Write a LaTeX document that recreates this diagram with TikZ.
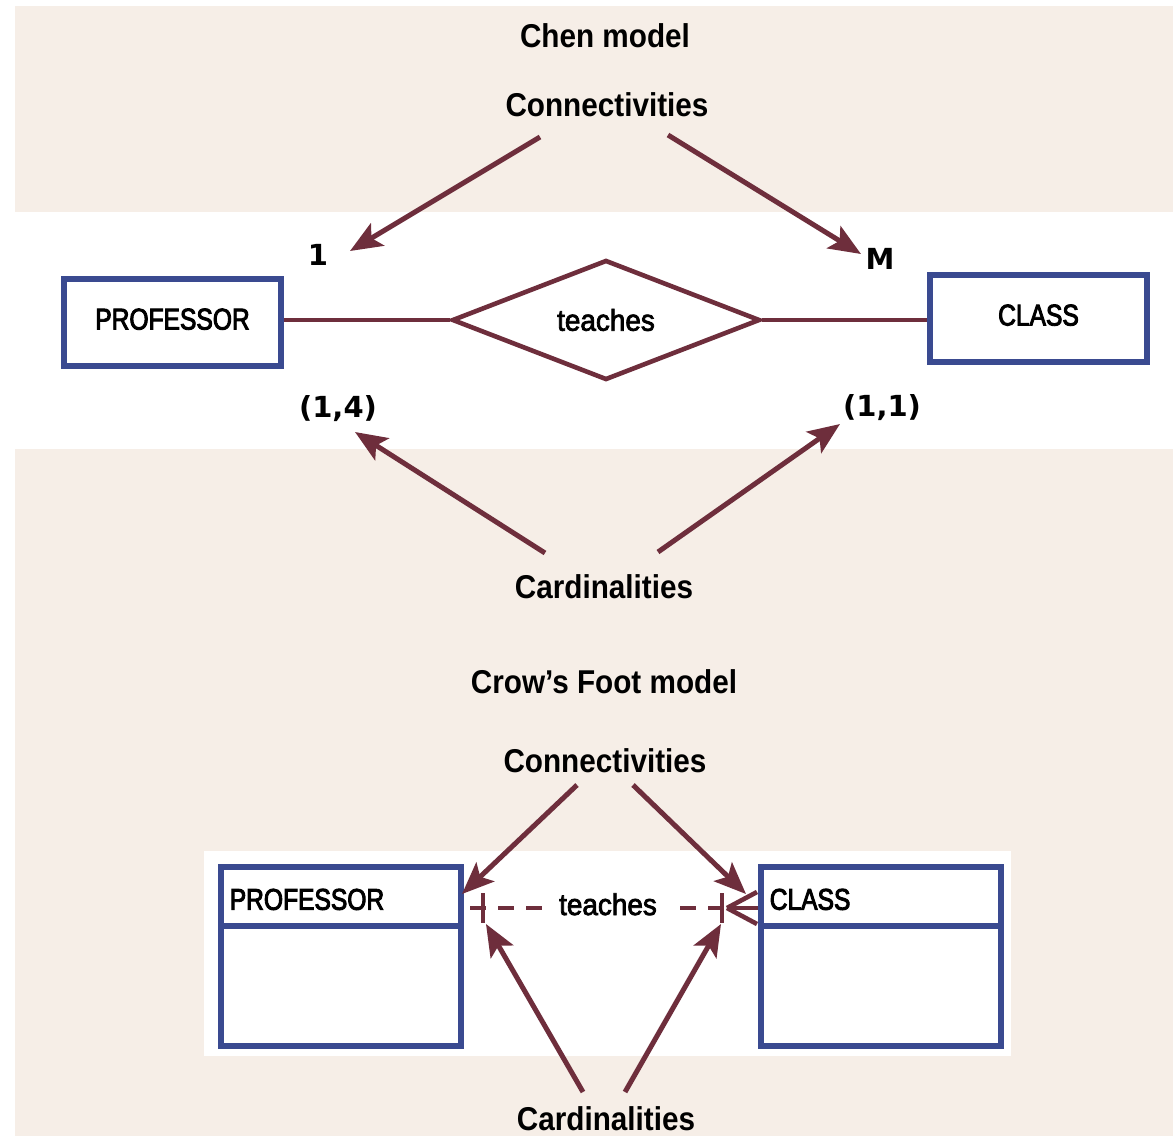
\documentclass[tikz,border=0pt]{standalone}
\usepackage{fontspec}
\setmainfont{Liberation Sans}
\newfontfamily\labfont[FakeStretch=0.82,FakeBold=3]{Liberation Sans}
\newfontfamily\teachfont[FakeStretch=0.93,FakeBold=2.5]{Liberation Sans}
\newfontfamily\ttlfont[FakeStretch=0.9]{Liberation Sans Bold}
\newfontfamily\numfont{DejaVu Sans}
\usetikzlibrary{arrows.meta,shapes.geometric}
\definecolor{beige}{HTML}{F6EEE7}
\definecolor{maroon}{HTML}{6E2E3C}
\definecolor{navy}{HTML}{3A4A90}
\begin{document}
\begin{tikzpicture}[x=1pt,y=-1pt,
  ttl/.style={anchor=base, inner sep=0pt, font=\ttlfont\fontsize{33}{36}\selectfont},
  num/.style={anchor=base, inner sep=0pt, font=\numfont\bfseries\fontsize{29}{34}\selectfont},
  entity/.style={draw=navy, line width=5.5pt, fill=white, inner sep=0pt,
    font=\labfont\fontsize{30}{34}\selectfont, text height=22pt, text depth=8pt},
  head/.style={draw=navy, line width=5.5pt, fill=white, inner xsep=9pt, inner ysep=0pt,
    anchor=north west, minimum width=240pt, minimum height=59pt, text width=222pt,
    align=left, font=\labfont\fontsize{30}{32}\selectfont, text height=27pt, text depth=0pt},
  body/.style={draw=navy, line width=5.5pt, fill=white, anchor=north west,
    minimum width=240pt, minimum height=120pt, inner sep=0pt},
  rel/.style={draw=maroon, line width=4.6pt},
  pointer/.style={draw=maroon, line width=5pt, -{Stealth[length=32pt,width=26pt,inset=7pt]}},
  dashrel/.style={rel, dash pattern=on 16pt off 12pt}
]
\useasboundingbox (0,0) rectangle (1173,1136);
% backgrounds
\fill[beige] (15,6) rectangle (1173,212);
\fill[beige] (15,449) rectangle (1173,1136);
\fill[white] (204,851) rectangle (1011,1056);

% ---------- Chen model ----------
\node[ttl] (chen) at (605,47) {Chen model};
\node[ttl] (conn1) at (607,116) {Connectivities};
\node[num] (one) at (318,265) {1};
\node[num] (many) at (880,269) {M};
\node[entity, minimum width=217pt, minimum height=87pt] (prof) at (172.5,322.5) {PROFESSOR};
\node[entity, minimum width=217pt, minimum height=87pt] (class) at (1038.5,318.5) {CLASS};
\node[diamond, draw=maroon, line width=4.6pt, fill=white, minimum width=308pt,
  minimum height=120pt, inner sep=0pt, font=\teachfont\fontsize{30}{34}\selectfont] (teach) at (606,320) {teaches};
\draw[rel] (teach.west) -- (teach.west -| prof.east);
\draw[rel] (teach.east) -- (teach.east -| class.west);
\node[num] (card14) at (338,417) {(1,4)};
\node[num] (card11) at (882,416) {(1,1)};
\node[ttl] (card1) at (604,598) {Cardinalities};

\coordinate (c1s) at (540,137); \coordinate (c1e) at (350,251);
\coordinate (c2s) at (668,135); \coordinate (c2e) at (861,254);
\coordinate (d1s) at (545,553); \coordinate (d1e) at (355,432);
\coordinate (d2s) at (658,552); \coordinate (d2e) at (840,424);
\draw[pointer] (c1s) -- (c1e);
\draw[pointer] (c2s) -- (c2e);
\draw[pointer] (d1s) -- (d1e);
\draw[pointer] (d2s) -- (d2e);

% ---------- Crow's Foot model ----------
\node[ttl] (crow) at (604,693) {Crow’s Foot model};
\node[ttl] (conn2) at (605,772) {Connectivities};
\node[body] (pbody) at (218,923) {};
\node[head] (phead) at (218,864) {PROFESSOR};
\node[body] (cbody) at (758,923) {};
\node[head] (chead) at (758,864) {CLASS};
\node[anchor=base, inner sep=0pt, font=\teachfont\fontsize{30}{32}\selectfont] (teach2) at (608,915) {teaches};
\coordinate (pl) at (458,908);
\coordinate (cl) at (758,908);
\coordinate (foot) at (727,908);
\draw[dashrel] ([xshift=-17pt]pl -| teach2.west) -- (pl);
\draw[dashrel] ([xshift=23pt]cl -| teach2.east) -- (cl);
\draw[rel] (foot) -- (cl);
\draw[rel] (foot) -- (757,892);
\draw[rel] (foot) -- (757,924);
\draw[rel] (483,893) -- (483,923);
\draw[rel] (722,893) -- (722,923);
\node[ttl] (card2) at (606,1130) {Cardinalities};

\coordinate (e1s) at (577,785); \coordinate (e1e) at (462,894);
\coordinate (e2s) at (633,785); \coordinate (e2e) at (746,894);
\coordinate (f1s) at (583,1092); \coordinate (f1e) at (486,924);
\coordinate (f2s) at (625,1092); \coordinate (f2e) at (721,924);
\draw[pointer] (e1s) -- (e1e);
\draw[pointer] (e2s) -- (e2e);
\draw[pointer] (f1s) -- (f1e);
\draw[pointer] (f2s) -- (f2e);
\end{tikzpicture}
\end{document}
